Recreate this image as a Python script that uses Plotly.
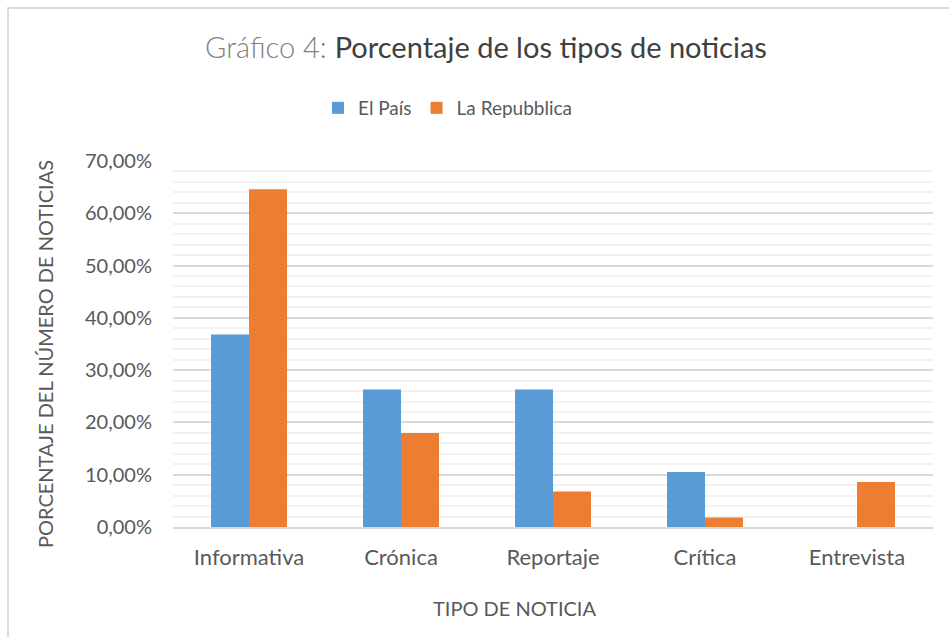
import plotly.graph_objects as go

# chart data (percentages)
categories = ["Informativa", "Crónica", "Reportaje", "Crítica", "Entrevista"]
el_pais = [36.84, 26.32, 26.32, 10.53, None]
la_repubblica = [64.6, 18.0, 6.8, 1.8, 8.6]
series_names = ["El País", "La Repubblica"]

FONT = "Lato, 'Open Sans', sans-serif"
TEXT = "#595959"

fig = go.Figure()
fig.add_trace(go.Bar(x=categories, y=el_pais, name=series_names[0],
                     marker=dict(color="#5B9BD5", line=dict(width=0))))
fig.add_trace(go.Bar(x=categories, y=la_repubblica, name=series_names[1],
                     marker=dict(color="#ED7D31", line=dict(width=0))))

fig.update_layout(
    width=949, height=637,
    margin=dict(l=173, r=16, t=161, b=110),
    paper_bgcolor="white", plot_bgcolor="white",
    separators=",.",
    font=dict(family=FONT, color=TEXT, size=19),
    barmode="group", bargap=0.5, bargroupgap=0,
    title=dict(
        text="<span style='color:#808080;font-weight:300'>Gráfico 4: </span>Porcentaje de los tipos de noticias",
        x=486 / 949, xanchor="center", xref="container",
        y=1 - 48 / 637, yanchor="middle", yref="container",
        font=dict(family=FONT, size=29, color="#404040"),
    ),
    legend=dict(
        orientation="h", x=(318 - 173) / 760, xanchor="left",
        y=(527 - 108) / 366, yanchor="middle",
        font=dict(size=19, color=TEXT),
        traceorder="normal",
    ),
    hovermode=False,
)

fig.update_xaxes(
    showline=True, linecolor="#D9D9D9", linewidth=2,
    ticks="", tickfont=dict(size=22, color=TEXT),
    showgrid=False, ticklabelstandoff=10,
)
fig.update_yaxes(
    range=[0, 70], dtick=10, tickformat=".2f", ticksuffix="%",
    showgrid=True, gridcolor="#D9D9D9", gridwidth=1.5,
    minor=dict(dtick=2, showgrid=True, gridcolor="#F2F2F2", gridwidth=1.5),
    zeroline=False, ticks="", ticklabelstandoff=20,
    tickfont=dict(size=20, color=TEXT),
)

# axis titles placed as in the reference
fig.add_annotation(text="TIPO DE NOTICIA", xref="paper", yref="paper",
                   x=(514 - 173) / 760, y=-(608 - 527) / 366,
                   xanchor="center", yanchor="middle", showarrow=False,
                   font=dict(size=20, color=TEXT))
fig.add_annotation(text="PORCENTAJE DEL NÚMERO DE NOTICIAS",
                   xref="paper", yref="paper", textangle=-90,
                   x=(45 - 173) / 760, y=(527 - 354) / 366,
                   xanchor="center", yanchor="middle", showarrow=False,
                   font=dict(size=20, color=TEXT))

# chart frame
fig.add_shape(type="rect", xref="paper", yref="paper",
              x0=(8 - 173) / 760, x1=(960 - 173) / 760,
              y0=-(650 - 527) / 366, y1=(527 - 8) / 366,
              line=dict(color="#D0D0D0", width=1.5), fillcolor="rgba(0,0,0,0)",
              layer="below")

fig.write_html("out.html", config={"displayModeBar": False},
               post_script="document.body.style.margin='0';")
